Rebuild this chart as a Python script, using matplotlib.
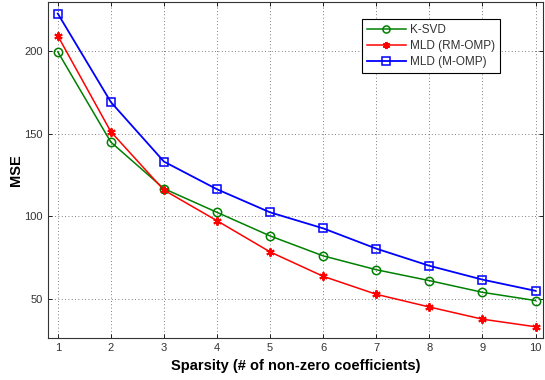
import matplotlib
matplotlib.use("Agg")
import matplotlib.pyplot as plt

plt.rcParams["font.family"] = ["Liberation Sans", "DejaVu Sans"]

sparsity = [1, 2, 3, 4, 5, 6, 7, 8, 9, 10]
ksvd = [199.8, 145.0, 116.8, 102.4, 88.1, 76.0, 67.6, 61.0, 53.9, 48.9]
mld_rm_omp = [209.5, 151.3, 115.9, 97.3, 78.4, 63.6, 52.7, 45.0, 37.6, 33.0]
mld_m_omp = [223.0, 169.3, 133.2, 116.4, 102.4, 92.7, 80.4, 70.0, 61.6, 54.8]
labels = ["K-SVD", "MLD (RM-OMP)", "MLD (M-OMP)"]
yticks = [50, 100, 150, 200]

fig = plt.figure(figsize=(5.45, 3.8), dpi=100)
ax = fig.add_axes([0.0875, 0.1097, 0.9088, 0.885])

ax.plot(sparsity, ksvd, color="#008000", lw=1.1, marker="o", ms=6,
        mfc="none", mec="#008000", mew=1.1, label=labels[0])
ax.plot(sparsity, mld_rm_omp, color="red", lw=1.1, marker=(6, 2, 0), ms=6,
        mec="red", mew=1.4, label=labels[1])
ax.plot(sparsity, mld_m_omp, color="blue", lw=1.3, marker="s", ms=6,
        mfc="none", mec="blue", mew=1.1, label=labels[2])

ax.set_xlim(0.81, 10.14)
ax.set_ylim(26, 230)
ax.set_xticks(sparsity)
ax.set_yticks(yticks)
ax.grid(True, color="#555555", linestyle=(0, (1, 3)), linewidth=0.6)
ax.tick_params(direction="in", top=True, right=True, labelsize=8,
               labelcolor="#333333", length=3, width=0.6)
for s in ax.spines.values():
    s.set_linewidth(0.8)
    s.set_color("#333333")

ax.set_xlabel("Sparsity (# of non-zero coefficients)", fontsize=10.5,
              fontweight="bold", labelpad=4)
ax.set_ylabel("MSE", fontsize=10.5, fontweight="bold", labelpad=1)

leg = ax.legend(loc="upper left", bbox_to_anchor=(0.6346, 0.949),
                borderaxespad=0, fontsize=8.5, fancybox=False, framealpha=1,
                edgecolor="black", handlelength=3.3, handletextpad=0.4,
                labelspacing=0.35, borderpad=0.4, markerscale=0.85)
leg.get_frame().set_linewidth(0.8)
for t in leg.get_texts():
    t.set_color("#333333")

fig.savefig("out.png", dpi=100)
